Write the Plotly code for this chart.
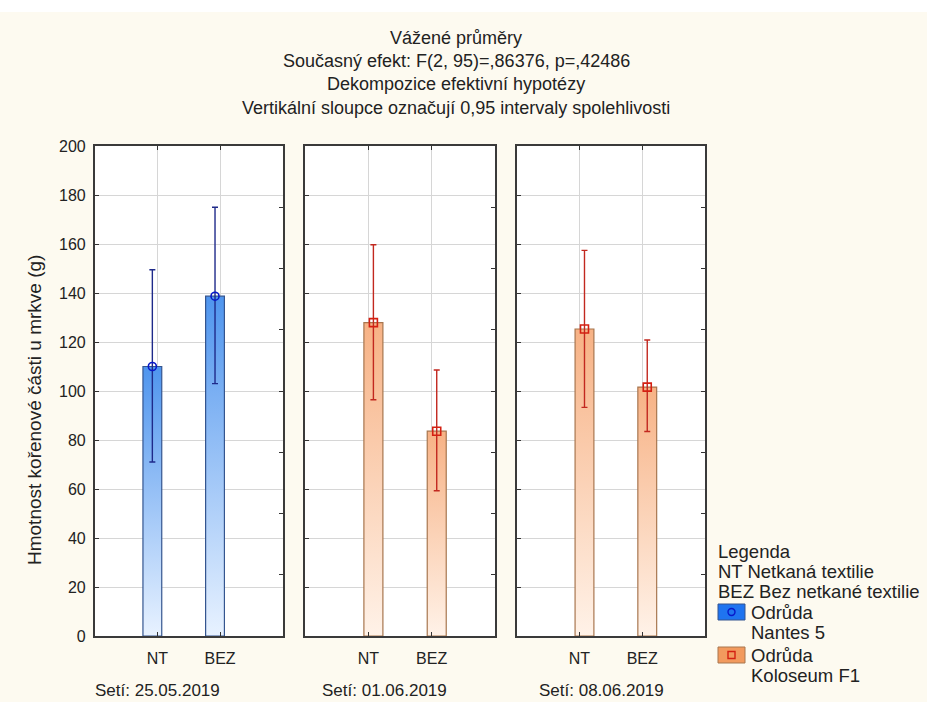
import plotly.graph_objects as go

# ---- data -------------------------------------------------------------
categories = ["NT", "BEZ"]
sowing_dates = ["Setí: 25.05.2019", "Setí: 01.06.2019", "Setí: 08.06.2019"]
panel_variety = ["Nantes 5", "Koloseum F1", "Koloseum F1"]

# weighted means of root mass (g) per panel, for NT and BEZ
means_nt = [110.0, 127.9, 125.3]
means_bez = [138.7, 83.6, 101.6]
# 0.95 confidence interval bounds
ci_low_nt = [71.0, 96.4, 93.3]
ci_high_nt = [149.5, 159.7, 157.4]
ci_low_bez = [103.0, 59.3, 83.5]
ci_high_bez = [175.0, 108.6, 120.8]

title_lines = [
    "Vážené průměry",
    "Současný efekt: F(2, 95)=,86376, p=,42486",
    "Dekompozice efektivní hypotézy",
    "Vertikální sloupce označují 0,95 intervaly spolehlivosti",
]
y_title = "Hmotnost kořenové části u mrkve (g)"
legend_lines = ["Legenda", "NT Netkaná textilie", "BEZ Bez netkané textilie"]

# ---- styles -------------------------------------------------------------
FONT = "Liberation Sans, Arial, sans-serif"
TEXT = "#222222"
BG = "#fdfaf0"
W, H = 927, 702

style = {
    "Nantes 5": dict(top="#4f95ee", bottom="#e8f2ff", edge="#34558f",
                     err="#1f2a8a", mk="#0818c8", symbol="circle-open",
                     shift=-0.08, box="#1f74f0"),
    "Koloseum F1": dict(top="#f7b285", bottom="#fff2e8", edge="#a8764f",
                        err="#c2281f", mk="#d42012", symbol="square-open",
                        shift=0.08, box="#f29a5e"),
}
bar_w = 0.30

# panel positions in pixels
panels_px = [(94.7, 282.7), (305.0, 495.0), (516.7, 705.0)]
plot_top_px, plot_bot_px = 146.0, 636.0

fig = go.Figure()

for p in range(3):
    st = style[panel_variety[p]]
    xa = "x" if p == 0 else f"x{p + 1}"
    ya = "y" if p == 0 else f"y{p + 1}"
    means = [means_nt[p], means_bez[p]]
    lows = [ci_low_nt[p], ci_low_bez[p]]
    highs = [ci_high_nt[p], ci_high_bez[p]]
    for i, m in enumerate(means):
        xc = i + st["shift"]
        x0, x1 = xc - bar_w / 2, xc + bar_w / 2
        # bar body with a vertical gradient fill
        fig.add_trace(go.Scatter(
            x=[x0, x1, x1, x0, x0], y=[0, 0, m, m, 0],
            mode="lines", fill="toself",
            fillgradient=dict(type="vertical",
                              colorscale=[[0, st["bottom"]], [1, st["top"]]]),
            line=dict(color=st["edge"], width=1.2),
            xaxis=xa, yaxis=ya, showlegend=False, hoverinfo="skip",
        ))
        # mean marker with the confidence interval
        fig.add_trace(go.Scatter(
            x=[xc], y=[m], mode="markers",
            marker=dict(symbol=st["symbol"], size=8, color=st["mk"],
                        line=dict(width=1.6, color=st["mk"])),
            error_y=dict(type="data", symmetric=False,
                         array=[highs[i] - m], arrayminus=[m - lows[i]],
                         color=st["err"], thickness=1.4, width=3),
            xaxis=xa, yaxis=ya, showlegend=False,
        ))
    # empty trace hooking up the right-hand tick axis of the panel
    fig.add_trace(go.Scatter(x=[], y=[], xaxis=xa, yaxis=f"y{p + 4}",
                             showlegend=False, hoverinfo="skip"))

layout = dict(
    width=W, height=H,
    margin=dict(l=0, r=0, t=0, b=0),
    paper_bgcolor=BG, plot_bgcolor="white",
    font=dict(family=FONT, size=16, color=TEXT),
    showlegend=False,
)

ydom = [(H - plot_bot_px) / H, (H - plot_top_px) / H]
for p, (l, r) in enumerate(panels_px):
    sfx = "" if p == 0 else str(p + 1)
    layout["xaxis" + sfx] = dict(
        domain=[l / W, r / W], range=[-1, 2],
        tickmode="array", tickvals=list(range(len(categories))),
        ticktext=categories, ticks="inside", ticklen=4, tickcolor="#333",
        showgrid=True, gridcolor="#d6d6d6", gridwidth=1, zeroline=False,
        showline=True, linecolor="#3a3a3a", linewidth=1.6, mirror="ticks",
        tickfont=dict(size=16, color=TEXT), ticklabelstandoff=7,
        automargin=False, anchor="y" + sfx,
    )
    layout["yaxis" + sfx] = dict(
        domain=ydom, range=[0, 200], dtick=20, tick0=0,
        ticks="inside", ticklen=4, tickcolor="#333",
        showgrid=True, gridcolor="#d6d6d6", gridwidth=1, zeroline=False,
        showline=True, linecolor="#3a3a3a", linewidth=1.6, mirror=True,
        showticklabels=(p == 0), tickfont=dict(size=16, color=TEXT),
        ticklabelstandoff=4, automargin=False,
        anchor="x" + sfx,
    )
    # right-hand axis: ticks every 25 units, no labels
    layout[f"yaxis{p + 4}"] = dict(
        overlaying="y" + sfx, side="right", anchor="x" + sfx,
        range=[0, 200], dtick=25, tick0=0, ticks="inside", ticklen=4,
        tickcolor="#333", showticklabels=False, showgrid=False,
        zeroline=False, showline=False, automargin=False,
    )

fig.update_layout(**layout)

ann = []
# stacked title lines
for k, line in enumerate(title_lines):
    ann.append(dict(text=line, x=456 / W, y=(H - (38 + 23.2 * k)) / H,
                    xref="paper", yref="paper", showarrow=False,
                    xanchor="center", yanchor="middle",
                    font=dict(size=18, color=TEXT)))
# vertical axis title
ann.append(dict(text=y_title, x=34 / W, y=(H - 410) / H, xref="paper",
                yref="paper", showarrow=False, textangle=-90,
                xanchor="center", yanchor="middle",
                font=dict(size=19, color=TEXT)))
# sowing date under each panel
for p, cx in enumerate([157, 384, 601.7]):
    ann.append(dict(text=sowing_dates[p], x=cx / W, y=(H - 690) / H,
                    xref="paper", yref="paper", showarrow=False,
                    xanchor="center", yanchor="middle",
                    font=dict(size=17, color=TEXT)))
# legend text block
for k, line in enumerate(legend_lines):
    ann.append(dict(text=line, x=716 / W, y=(H - (551 + 20 * k)) / H,
                    xref="paper", yref="paper", showarrow=False,
                    xanchor="left", yanchor="middle",
                    font=dict(size=18.5, color=TEXT)))
variety_rows = [("Nantes 5", 612), ("Koloseum F1", 655)]
shapes = [dict(type="rect", xref="paper", yref="paper", x0=0, x1=1,
               y0=(H - 12) / H, y1=1, fillcolor="white", line_width=0,
               layer="below")]
for name, yc in variety_rows:
    st = style[name]
    ann.append(dict(text="Odrůda", x=749 / W, y=(H - yc) / H, xref="paper",
                    yref="paper", showarrow=False, xanchor="left",
                    yanchor="middle", font=dict(size=18.5, color=TEXT)))
    ann.append(dict(text=name, x=749 / W, y=(H - yc - 20) / H, xref="paper",
                    yref="paper", showarrow=False, xanchor="left",
                    yanchor="middle", font=dict(size=18.5, color=TEXT)))
    shapes.append(dict(type="rect", xref="paper", yref="paper",
                       x0=718 / W, x1=745 / W, y0=(H - yc - 8) / H,
                       y1=(H - yc + 8) / H, fillcolor=st["box"],
                       line=dict(color=st["edge"], width=1)))
    marker_shape = "circle" if st["symbol"].startswith("circle") else "rect"
    shapes.append(dict(type=marker_shape, xref="paper", yref="paper",
                       x0=728 / W, x1=735 / W, y0=(H - yc - 3.5) / H,
                       y1=(H - yc + 3.5) / H,
                       line=dict(color=st["mk"], width=1.4)))

fig.update_layout(annotations=ann, shapes=shapes)
fig.write_html("out.html")
